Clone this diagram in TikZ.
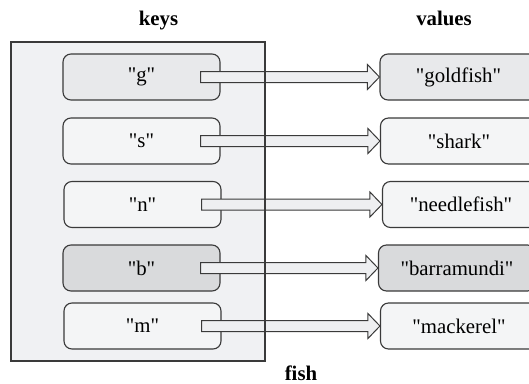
\documentclass[tikz,border=0pt]{standalone}
\usepackage{fontspec}
\setmainfont{Liberation Serif}[Ligatures=TeXOff]
\usepackage{tikz}
\usetikzlibrary{positioning, calc}

\definecolor{linegray}{HTML}{3A3A3A}
\definecolor{panelgray}{HTML}{F0F1F3}
\definecolor{midgray}{HTML}{E8E9EB}
\definecolor{lightgray}{HTML}{F4F5F6}
\definecolor{darkgray}{HTML}{D9DADC}
\definecolor{arrowgray}{HTML}{EEEFF1}

\tikzset{
  entrybox/.style={draw=linegray, line width=0.85pt, rounded corners=6pt,
    minimum width=117.75pt, minimum height=34.5pt, inner sep=0pt,
    font=\fontsize{15.6}{18}\selectfont},
  fatarrow/.style={draw=linegray, line width=0.75pt, fill=arrowgray, line join=miter},
  heading/.style={font=\fontsize{15.6}{18}\selectfont\bfseries, anchor=base}
}

% hollow block arrow from a key to its value
\newcommand{\keyarrow}[2]{%
  \draw[fatarrow] ($(#1.east)+(-20,-5.5)$) -- ($(#2.west)+(-12,-5.5)$)
    -- ($(#2.west)+(-12,-12.5)$) -- (#2.west) -- ($(#2.west)+(-12,12.5)$)
    -- ($(#2.west)+(-12,5.5)$) -- ($(#1.east)+(-20,5.5)$) -- cycle;}

\begin{document}
\begin{tikzpicture}[x=0.75pt, y=-0.75pt]
    \useasboundingbox (0,0) rectangle (529,383);
    \clip (0,0) rectangle (529,383);

    % titles
    \node[heading] (keys) at (158.5, 25) {keys};
    \node[heading] (values) at (444, 25) {values};
    \node[heading] (fish) at (301, 380) {fish};

    % panel holding the keys
    \fill[panelgray] (11,42) rectangle (265,361);

    % keys
    \node[entrybox, fill=midgray] (kg) at (141.5, 77) {"g"};
    \node[entrybox, fill=lightgray] (ks) at (141.5, 141) {"s"};
    \node[entrybox, fill=lightgray] (kn) at (142.5, 204.5) {"n"};
    \node[entrybox, fill=darkgray] (kb) at (141.5, 268) {"b"};
    \node[entrybox, fill=lightgray] (km) at (142.5, 326) {"m"};

    % values
    \node[entrybox, fill=midgray] (vg) at (458.5, 77) {"goldfish"};
    \node[entrybox, fill=lightgray] (vs) at (459, 141) {"shark"};
    \node[entrybox, fill=lightgray] (vn) at (461, 204.5) {"needlefish"};
    \node[entrybox, fill=darkgray] (vb) at (457, 268) {"barramundi"};
    \node[entrybox, fill=lightgray] (vm) at (459, 326) {"mackerel"};

    % arrows
    \foreach \k in {g, s, n, b, m}
        \keyarrow{k\k}{v\k};

    % panel outline drawn over the arrows
    \draw[linegray, line width=0.85pt] (11,42) rectangle (265,361);
\end{tikzpicture}
\end{document}
